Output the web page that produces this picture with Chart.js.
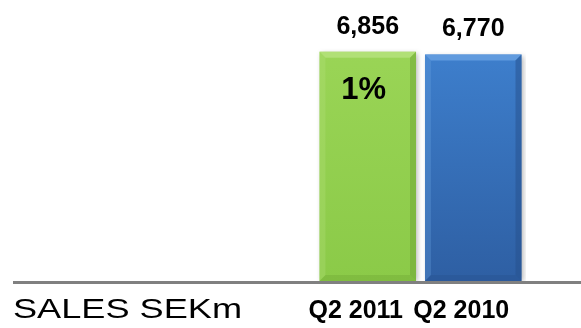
<!DOCTYPE html>
<html>
<head>
<meta charset="utf-8">
<script src="https://cdn.jsdelivr.net/npm/chart.js@4.4.1/dist/chart.umd.min.js"></script>
<style>
    html, body { margin: 0; padding: 0; background: #ffffff; }
    #sales_wrap { position: relative; width: 581px; height: 328px; }
</style>
</head>
<body>
<div id="sales_wrap"><canvas id="sales_chart"></canvas></div>
<script>
const sales_quarters = ['Q2 2011', 'Q2 2010'];
const sales_values = [6856, 6770];
const sales_change_labels = ['1%', ''];
const sales_unit_label = 'SALES SEKm';

const sales_palette = {
    green: { top: '#9dd759', bottom: '#8bca48', light: '#b6e27e', dark: '#6ea335' },
    blue: { top: '#4186d6', bottom: '#2e5fa3', light: '#6aa2e2', dark: '#26508c' },
    base_line: '#808080',
    text: '#000000',
};

const sales_font = '"Liberation Sans", Arial, sans-serif';

function sales_bar_style(idx) {
    return idx === 0 ? sales_palette.green : sales_palette.blue;
}

function sales_bar_fill(ctx) {
    const chart = ctx.chart;
    const area = chart.chartArea;
    if (!area) {
        return sales_bar_style(ctx.dataIndex).top;
    }
    const style = sales_bar_style(ctx.dataIndex);
    const grad = chart.ctx.createLinearGradient(0, area.top, 0, area.bottom);
    grad.addColorStop(0, style.top);
    grad.addColorStop(1, style.bottom);
    return grad;
}

// soft drop shadow under the bars
const sales_shadow_plugin = {
    id: 'sales_shadow',
    beforeDatasetDraw(chart) {
        const ctx = chart.ctx;
        ctx.save();
        ctx.shadowColor = 'rgba(0, 0, 0, 0.28)';
        ctx.shadowBlur = 5;
        ctx.shadowOffsetX = 2;
        ctx.shadowOffsetY = 1;
    },
    afterDatasetDraw(chart) {
        chart.ctx.restore();
    },
};

// bevelled edges, baseline, value labels and unit caption
const sales_decor_plugin = {
    id: 'sales_decor',
    afterDatasetsDraw(chart) {
        const ctx = chart.ctx;
        const meta = chart.getDatasetMeta(0);
        const bevel = 6;

        meta.data.forEach(function (bar, idx) {
            const p = bar.getProps(['x', 'y', 'width', 'base'], true);
            const left = p.x - p.width / 2;
            const right = p.x + p.width / 2;
            const top = p.y;
            const bottom = p.base;
            const style = sales_bar_style(idx);

            ctx.save();
            ctx.globalAlpha = 0.8;
            ctx.fillStyle = style.light;
            ctx.beginPath();
            ctx.moveTo(left, top);
            ctx.lineTo(right, top);
            ctx.lineTo(right - bevel, top + bevel);
            ctx.lineTo(left + bevel, top + bevel);
            ctx.closePath();
            ctx.fill();

            ctx.globalAlpha = 0.3;
            ctx.beginPath();
            ctx.moveTo(left, top);
            ctx.lineTo(left + bevel, top + bevel);
            ctx.lineTo(left + bevel, bottom - bevel);
            ctx.lineTo(left, bottom);
            ctx.closePath();
            ctx.fill();

            ctx.globalAlpha = 0.5;
            ctx.fillStyle = style.dark;
            ctx.beginPath();
            ctx.moveTo(right, top);
            ctx.lineTo(right - bevel, top + bevel);
            ctx.lineTo(right - bevel, bottom - bevel);
            ctx.lineTo(right, bottom);
            ctx.closePath();
            ctx.fill();

            ctx.globalAlpha = 0.35;
            ctx.beginPath();
            ctx.moveTo(left, bottom);
            ctx.lineTo(left + bevel, bottom - bevel);
            ctx.lineTo(right - bevel, bottom - bevel);
            ctx.lineTo(right, bottom);
            ctx.closePath();
            ctx.fill();
            ctx.restore();

            ctx.save();
            ctx.fillStyle = sales_palette.text;
            ctx.textAlign = 'center';
            ctx.textBaseline = 'middle';
            ctx.font = 'bold 25px ' + sales_font;
            ctx.fillText(sales_values[idx].toLocaleString('en-US'), p.x, top - 25);

            if (sales_change_labels[idx]) {
                ctx.font = 'bold 31px ' + sales_font;
                ctx.fillText(sales_change_labels[idx], p.x - 4, top + 39);
            }
            ctx.restore();
        });

        const y_zero = chart.scales.y.getPixelForValue(0);
        ctx.save();
        ctx.strokeStyle = sales_palette.base_line;
        ctx.lineWidth = 3;
        ctx.beginPath();
        ctx.moveTo(13, y_zero + 1.5);
        ctx.lineTo(chart.width, y_zero + 1.5);
        ctx.stroke();

        ctx.fillStyle = sales_palette.text;
        ctx.font = '27px ' + sales_font;
        ctx.textBaseline = 'alphabetic';
        ctx.textAlign = 'left';
        const natural = ctx.measureText(sales_unit_label).width;
        ctx.translate(13, y_zero + 37);
        ctx.scale(229 / natural, 1);
        ctx.fillText(sales_unit_label, 0, 0);
        ctx.restore();
    },
};

new Chart(document.getElementById('sales_chart').getContext('2d'), {
    type: 'bar',
    data: {
        labels: sales_quarters,
        datasets: [
            {
                data: sales_values,
                backgroundColor: sales_bar_fill,
                borderWidth: 0,
                categoryPercentage: 1,
                barPercentage: 0.915,
            },
        ],
    },
    options: {
        responsive: true,
        maintainAspectRatio: false,
        animation: false,
        devicePixelRatio: 1,
        layout: {
            padding: { left: 315, right: 55, top: 0, bottom: 0 },
        },
        plugins: {
            legend: { display: false },
            tooltip: { enabled: false },
        },
        scales: {
            x: {
                grid: { display: false, drawTicks: false },
                border: { display: false },
                ticks: {
                    color: sales_palette.text,
                    font: { family: sales_font, size: 25, weight: 'bold' },
                    padding: 15,
                    labelOffset: -12,
                    maxRotation: 0,
                    autoSkip: false,
                },
                afterFit(scale) {
                    scale.height = 47;
                },
            },
            y: {
                display: false,
                min: 0,
                max: 8400,
            },
        },
    },
    plugins: [sales_shadow_plugin, sales_decor_plugin],
});
</script>
</body>
</html>
